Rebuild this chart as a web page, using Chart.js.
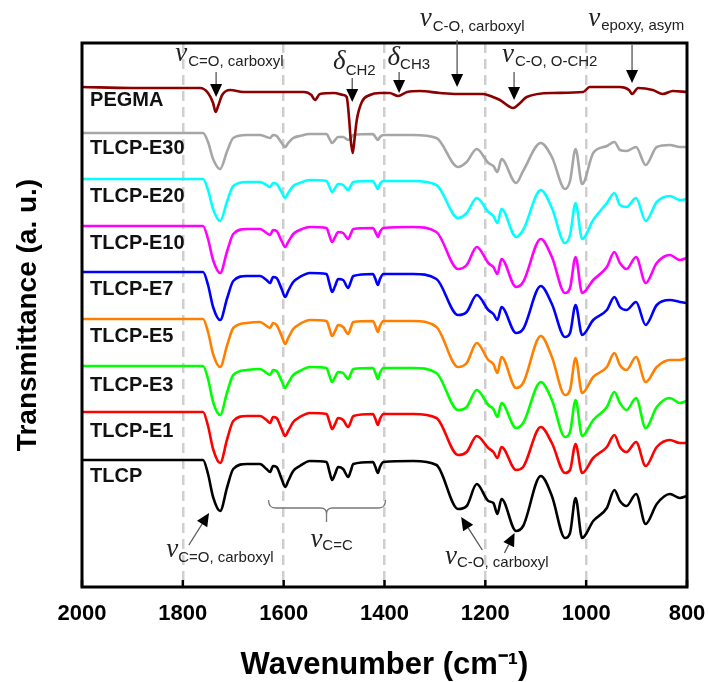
<!DOCTYPE html>
<html><head><meta charset="utf-8">
<script src="https://cdn.jsdelivr.net/npm/chart.js@4/dist/chart.umd.min.js"></script>
<style>html,body{margin:0;padding:0;background:#fff;}canvas{display:block;}</style>
</head><body>
<canvas id="c" width="709" height="682"></canvas>
<script>
// ---------- data ----------
const seriesNames  = ['PEGMA','TLCP-E30','TLCP-E20','TLCP-E10','TLCP-E7','TLCP-E5','TLCP-E3','TLCP-E1','TLCP'];
const seriesColors = ['#8b0000','#a6a6a6','#00ffff','#ff00ff','#0000ff','#ff8000','#00ff00','#ff0000','#000000'];
// vertical offsets of the stacked spectra (a.u.)
const offsets = [500,454,408,361,315,268,221,175,127];
const xTicks = [2000,1800,1600,1400,1200,1000,800];

// common wavenumber grid (cm-1) for the TLCP family
const wavenumbers = [2000,1900,1800,1760,1750,1740,1726,1712,1700,1673,1647,1634,1627,1621,1614,1604,1597,1591,1581,1568,1548,1515,1509,1504,1498,1492,1482,1472,1467,1462,1423,1418,1413,1409,1402,1343,1297,1254,1237,1217,1194,1184,1176,1168,1139,1125,1090,1068,1042,1032,1021,1008,986,959,944,933,920,901,882,860,834,814,800];
// relative transmittance (a.u.), 0 = baseline
const tlcp    = [0,0,0,0,-14,-37,-51,-27,-9,-4,-4,-9,-12,-6,-7,-19,-27,-21,-11,-6,-1,-2,-12,-20,-14,-7,-9,-17,-11,-4,-2,-7,-13,-7,-2,-1,-5,-49,-46,-24,-41,-43,-54,-39,-71,-66,-16,-36,-78,-73,-38,-78,-61,-48,-30,-41,-46,-34,-64,-44,-34,-38,-36];
const tlcpE1  = [0,0,0,0,-14,-37,-51,-27,-9,-4,-4,-8,-11,-5,-6,-17,-24,-19,-10,-5,-1,-2,-10,-17,-12,-6,-8,-15,-10,-4,-2,-7,-13,-7,-2,-2,-6,-43,-40,-24,-36,-40,-46,-35,-58,-55,-15,-31,-61,-58,-32,-61,-46,-35,-23,-35,-40,-30,-54,-35,-28,-31,-31];
const tlcpE3  = [0,0,0,0,-13,-36,-49,-26,-9,-4,-3,-7,-9,-4,-5,-15,-22,-17,-9,-5,-1,-2,-10,-16,-11,-6,-7,-13,-8,-3,-2,-7,-13,-7,-2,-2,-7,-44,-41,-24,-39,-43,-51,-37,-62,-57,-16,-34,-71,-66,-34,-70,-54,-41,-26,-37,-44,-32,-62,-41,-32,-37,-35];
const tlcpE5  = [0,0,0,0,-13,-35,-48,-26,-9,-4,-3,-7,-9,-4,-6,-17,-25,-19,-10,-5,-1,-2,-10,-17,-12,-6,-8,-15,-9,-3,-2,-7,-13,-7,-2,-2,-8,-48,-44,-24,-41,-45,-54,-38,-69,-64,-17,-38,-76,-71,-39,-74,-58,-48,-34,-46,-51,-38,-63,-48,-41,-41,-39];
const tlcpE7  = [0,0,0,0,-13,-35,-48,-26,-9,-4,-4,-8,-11,-5,-6,-17,-25,-19,-10,-5,-1,-2,-12,-20,-14,-7,-8,-16,-10,-4,-2,-7,-13,-7,-2,-2,-7,-43,-40,-23,-38,-42,-48,-35,-61,-57,-14,-32,-65,-61,-33,-63,-48,-38,-25,-35,-38,-30,-53,-33,-28,-30,-31];
const tlcpE10 = [0,0,0,0,-13,-34,-47,-25,-8,-3,-3,-7,-9,-4,-5,-15,-21,-16,-8,-4,-1,-2,-10,-16,-11,-6,-7,-13,-8,-3,-2,-6,-11,-6,-2,-1,-6,-43,-39,-21,-37,-41,-48,-33,-61,-56,-13,-31,-67,-62,-31,-67,-54,-41,-26,-37,-43,-31,-57,-37,-29,-34,-32];
const tlcpE20 = [0,0,0,0,-11,-30,-42,-22,-7,-3,-3,-6,-8,-4,-5,-13,-19,-14,-7,-4,-1,-2,-8,-13,-9,-5,-6,-11,-7,-3,-2,-6,-10,-5,-2,-2,-6,-39,-34,-19,-33,-37,-44,-30,-58,-51,-11,-29,-64,-56,-24,-60,-41,-24,-14,-26,-28,-19,-42,-23,-17,-21,-20];
const tlcpE30 = [0,0,0,0,-9,-26,-36,-18,-5,-2,-2,-4,-5,-2,-3,-10,-14,-10,-5,-3,-1,-1,-6,-10,-7,-4,-4,-7,-5,-2,-1,-4,-7,-4,-2,-2,-5,-34,-29,-16,-30,-33,-39,-26,-50,-38,-10,-24,-56,-48,-16,-51,-20,-13,-9,-17,-18,-14,-32,-14,-12,-14,-14];
// PEGMA has its own grid
const pegmaWavenumbers = [2000,1900,1800,1766,1750,1740,1735,1730,1722,1706,1680,1600,1560,1545,1538,1528,1500,1482,1475,1470,1467,1463,1459,1455,1445,1429,1409,1390,1373,1355,1330,1290,1256,1205,1185,1171,1145,1131,1118,1066,1006,993,933,915,909,897,868,848,828,800];
const pegma = [0,-1,-1,-1,-6,-16,-25,-19,-8,-3,-5,-5,-5,-8,-13,-7,-6,-8,-10,-33,-53,-66,-50,-33,-15,-8,-6,-6,-9,-5,-4,-6,-7,-7,-10,-13,-21,-16,-10,-6,-5,0,0,-3,-7,-1,-3,-7,-4,-5];

const seriesValues = [pegma,tlcpE30,tlcpE20,tlcpE10,tlcpE7,tlcpE5,tlcpE3,tlcpE1,tlcp];
const seriesX = [pegmaWavenumbers,wavenumbers,wavenumbers,wavenumbers,wavenumbers,wavenumbers,wavenumbers,wavenumbers,wavenumbers];

const datasets = seriesNames.map((name,k)=>({
  label:name,
  data: seriesX[k].map((w,i)=>({x:w, y:offsets[k]+seriesValues[k][i]})),
  borderColor: seriesColors[k],
  borderWidth: 2.6,
  pointRadius: 0,
  fill:false,
  cubicInterpolationMode:'monotone'
}));

const SANS = '"Liberation Sans", Arial, sans-serif';
const SERIF = '"Liberation Serif", "Times New Roman", serif';

function arrow(ctx, x1, y1, x2, y2, hl, hw){
  const dx=x2-x1, dy=y2-y1, L=Math.hypot(dx,dy), ux=dx/L, uy=dy/L;
  const bx=x2-ux*hl, by=y2-uy*hl;
  ctx.strokeStyle='#555'; ctx.lineWidth=1.3;
  ctx.beginPath(); ctx.moveTo(x1,y1); ctx.lineTo(bx,by); ctx.stroke();
  ctx.fillStyle='#000';
  ctx.beginPath(); ctx.moveTo(x2,y2);
  ctx.lineTo(bx-uy*hw/2, by+ux*hw/2);
  ctx.lineTo(bx+uy*hw/2, by-ux*hw/2);
  ctx.closePath(); ctx.fill();
}
function symLabel(ctx, sym, x, y, sub, dxSub, dySub){
  ctx.fillStyle='#222';
  ctx.textAlign='left'; ctx.textBaseline='middle';
  ctx.font='italic 27px '+SERIF;
  ctx.fillText(sym, x, y);
  const w = ctx.measureText(sym).width;
  ctx.font='15px '+SANS;
  ctx.fillText(sub, x + w + dxSub, y + dySub);
}

const decor = {
  id:'decor',
  afterDatasetsDraw(chart){
    const {ctx, chartArea:a, scales:{x:xs, y:ys}} = chart;
    const X = w => xs.getPixelForValue(w);
    ctx.save();
    // frame
    ctx.strokeStyle='#000'; ctx.lineWidth=3;
    ctx.strokeRect(a.left, a.top, a.right-a.left, a.bottom-a.top);
    // inner ticks
    ctx.lineWidth=2.5;
    xTicks.forEach(v=>{ const px=X(v); ctx.beginPath(); ctx.moveTo(px,a.bottom); ctx.lineTo(px,a.bottom-7); ctx.stroke(); });
    // series labels
    const shift=[13.5,15.7,17.4,17,17,17.4,19,19.7,16.7];
    ctx.font='bold 20px '+SANS; ctx.fillStyle='#111'; ctx.textAlign='left'; ctx.textBaseline='middle';
    seriesNames.forEach((n,k)=>{ ctx.fillText(n, X(1984), ys.getPixelForValue(offsets[k]) + shift[k]); });
    // top annotations
    symLabel(ctx,'ν',X(1815),54,'C=O, carboxyl',1,8);
    arrow(ctx,X(1734),72,X(1734),97,13,12);
    symLabel(ctx,'δ',X(1502),62,'CH2',0,9);
    arrow(ctx,X(1464),78,X(1464),102,13,12);
    symLabel(ctx,'δ',X(1394),58,'CH3',0,7);
    arrow(ctx,X(1371),72,X(1371),93,13,12);
    symLabel(ctx,'ν',X(1330),19,'C-O, carboxyl',1,8);
    arrow(ctx,X(1256),40,X(1256),87,13,12);
    symLabel(ctx,'ν',X(1167),55,'C-O, O-CH2',1,7);
    arrow(ctx,X(1143),72,X(1143),100,13,12);
    symLabel(ctx,'ν',X(996),19,'epoxy, asym',1,7);
    arrow(ctx,X(909),45,X(909),83,13,12);
    // bottom annotations
    symLabel(ctx,'ν',X(1833),550,'C=O, carboxyl',0,8);
    arrow(ctx,X(1788),545,X(1748),513,13,12);
    // brace
    const x1=X(1630), x2=X(1398), xm=X(1515);
    ctx.strokeStyle='#777'; ctx.lineWidth=1.3;
    ctx.beginPath();
    ctx.moveTo(x1,500); ctx.quadraticCurveTo(x1,508,x1+7,508); ctx.lineTo(xm-6,508); ctx.quadraticCurveTo(xm,508,xm,514);
    ctx.quadraticCurveTo(xm,508,xm+6,508); ctx.lineTo(x2-7,508); ctx.quadraticCurveTo(x2,508,x2,500);
    ctx.moveTo(xm,514); ctx.lineTo(xm,522);
    ctx.stroke();
    symLabel(ctx,'ν',X(1547),540,'C=C',0,6);
    symLabel(ctx,'ν',X(1280),557,'C-O, carboxyl',0,6);
    arrow(ctx,X(1206),550,X(1248),517,13,12);
    arrow(ctx,X(1162),553,X(1142),533,13,12);
    ctx.restore();
  }
};

new Chart(document.getElementById('c').getContext('2d'), {
  type:'line',
  data:{datasets},
  options:{
    responsive:false, animation:false, devicePixelRatio:1,
    layout:{padding:{top:43,right:22,left:0,bottom:0}},
    plugins:{legend:{display:false}, tooltip:{enabled:false}},
    scales:{
      x:{
        type:'linear', reverse:true, min:800, max:2000,
        ticks:{stepSize:200, callback: v => String(v), font:{family:SANS,size:22,weight:'bold'}, color:'#000', padding:14, maxRotation:0, autoSkip:false},
        grid:{color: c => (c.tick && (c.tick.value===2000 || c.tick.value===800)) ? 'rgba(0,0,0,0)' : '#cfcfcf', lineWidth:2.5, drawTicks:false},
        border:{display:false, dash:[10,6]},
        title:{display:true, text:'Wavenumber (cm\u207B\u00B9)', color:'#000', font:{family:SANS,size:31,weight:'bold',lineHeight:1}, padding:{top:0,bottom:1}},
        afterFit: s => { s.height = 95; s.paddingLeft = 0; s.paddingRight = 0; }
      },
      y:{
        min:0, max:544,
        ticks:{display:false}, grid:{display:false, drawTicks:false}, border:{display:false},
        title:{display:true, text:'Transmittance (a. u.)', color:'#000', font:{family:SANS,size:28,weight:'bold',lineHeight:1}, padding:{top:14,bottom:0}},
        afterFit: s => { s.width = 82; s.paddingTop = 0; s.paddingBottom = 0; }
      }
    }
  },
  plugins:[decor]
});
</script>
</body></html>
